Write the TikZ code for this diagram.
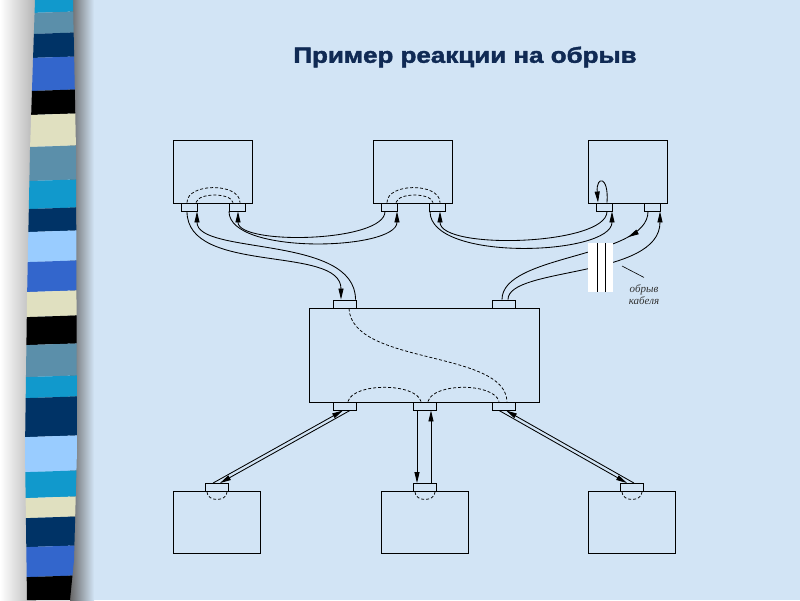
\documentclass[tikz,border=0pt]{standalone}
\usepackage{fontspec}
\setmainfont{Liberation Sans}
\newfontfamily\capfont{Liberation Serif}
\newfontfamily\titlefont[BoldFeatures={FakeBold=1.6}]{Liberation Sans}
\usetikzlibrary{arrows,arrows.meta}
\usetikzlibrary{calc}
\usetikzlibrary{decorations.markings}
\definecolor{bg}{RGB}{210,228,245}
\definecolor{stcyan}{RGB}{17,153,204}
\definecolor{ststeel}{RGB}{91,143,170}
\definecolor{stnavy}{RGB}{0,51,102}
\definecolor{stroyal}{RGB}{51,102,204}
\definecolor{stbeige}{RGB}{224,224,192}
\definecolor{stsky}{RGB}{153,204,255}
\definecolor{titleblue}{RGB}{16,42,84}
\tikzset{>={Triangle[length=11pt,width=5pt]}}
\tikzstyle{station} = [draw, line width = 0.9, inner sep = 0pt,
					minimum width = 79pt, minimum height = 63pt]
\tikzstyle{term} = [draw, line width = 0.9, inner sep = 0pt,
					minimum width = 87pt, minimum height = 62pt]
\tikzstyle{hub} = [draw, line width = 0.9, inner sep = 0pt,
					minimum width = 230pt, minimum height = 94pt]
\tikzstyle{port} = [draw, fill = bg, line width = 0.9, inner sep = 0pt,
					minimum width = 16pt, minimum height = 8pt]
\tikzstyle{bigport} = [port, minimum width = 23pt]
\tikzstyle{fibre} = [line width = 0.85, ->]
\tikzstyle{fibre1} = [line width = 0.85]
\tikzstyle{inner} = [line width = 0.75, dash pattern = on 3pt off 2pt]
\tikzstyle{fibremid} = [%
					line width = 0.85,
					postaction = decorate, decoration={markings, mark=at position .19 with \arrow{>}}
					]

\begin{document}
\begin{tikzpicture}[x=1pt,y=-1pt]

	% Background
	\useasboundingbox (0,0) rectangle (800,600);
	\fill[bg] (0,0) rectangle (800,600);
	\shade[left color=white, right color=black!30] (0,0) rectangle (36,600);
	\shade[left color=black!60, right color=bg] (70,0) rectangle (94,600);

	% Strip
	\begin{scope}
		\clip (35,0) -- (73,0) -- (76,150) -- (77,450) -- (74,560) -- (70,600) -- (27,600) -- (25,450) -- (27,300) -- (30,150) -- cycle;
		\foreach \ya/\yb/\c in {0/13/stcyan, 13/34/ststeel, 34/58/stnavy, 58/91/stroyal, 91/115/black,
			115/147/stbeige, 147/181/ststeel, 181/209/stcyan, 209/232/stnavy, 232/262/stsky,
			262/292/stroyal, 292/317/stbeige, 317/345/black, 345/377/ststeel, 377/398/stcyan,
			398/437/stnavy, 437/472/stsky, 472/498/stcyan, 498/518/stbeige, 518/547/stnavy,
			547/577/stroyal, 577/603/black}
		{
			\fill[\c] (0,\ya+1) -- (90,\ya-2) -- (90,\yb-2) -- (0,\yb+1) -- cycle;
		}
	\end{scope}

	% Title
	\node[text=titleblue, font=\titlefont\fontsize{22}{26}\selectfont\bfseries] (title) at (465,57)
		{\scalebox{1.18}[1]{Пример реакции на обрыв}};

	% Nodes
	%% Stations
	\node[station] (s1) at (212.5,171.5) {};
	\node[station] (s2) at (412.5,171.5) {};
	\node[station] (s3) at (627.5,171.5) {};
	\node[port] (p11) at (189,207) {};
	\node[port] (p12) at (237,207) {};
	\node[port] (p21) at (389,207) {};
	\node[port] (p22) at (437,207) {};
	\node[port] (p31) at (604,207) {};
	\node[port] (p32) at (652,207) {};
	%% Hub
	\node[hub] (h) at (424,355) {};
	\node[bigport] (h1) at (344.5,304) {};
	\node[bigport] (h2) at (504,304) {};
	\node[bigport] (hb1) at (344.5,406) {};
	\node[bigport] (hb2) at (425,406) {};
	\node[bigport] (hb3) at (504,406) {};
	%% Terminals
	\node[term] (t1) at (216.5,522) {};
	\node[term] (t2) at (424.5,522) {};
	\node[term] (t3) at (631.5,522) {};
	\node[bigport] (q1) at (217,487.5) {};
	\node[bigport] (q2) at (425,487.5) {};
	\node[bigport] (q3) at (632,487.5) {};

	% Inner paths
	\draw[inner] ([xshift=-2pt]p11.north) .. controls +(0,-20) and +(0,-20) .. ([xshift=3pt]p12.north);
	\draw[inner] ([xshift=7pt]p11.north) .. controls +(2,-10) and +(-2,-10) .. ([xshift=-4pt]p12.north);
	\draw[inner] ([xshift=-2pt]p21.north) .. controls +(0,-20) and +(0,-20) .. ([xshift=3pt]p22.north);
	\draw[inner] ([xshift=7pt]p21.north) .. controls +(2,-10) and +(-2,-10) .. ([xshift=-4pt]p22.north);
	\draw[fibre] ([xshift=3pt]p31.north) .. controls +(2,-27) and +(-2,-27) .. ([xshift=-6pt]p31.north);
	\draw[inner] ([xshift=4.5pt]h1.south) .. controls +(3,57) and +(-2,-52) .. ([xshift=3pt]hb3.north);
	\draw[inner] ([xshift=3.5pt]hb1.north) .. controls +(5,-19) and +(-5,-19) .. ([xshift=-4pt]hb2.north);
	\draw[inner] ([xshift=3pt]hb2.north) .. controls +(5,-19) and +(-5,-19) .. ([xshift=-5pt]hb3.north);
	\draw[inner] ([xshift=-10pt]q1.south) .. controls +(0,10) and +(0,10) .. ([xshift=10pt]q1.south);
	\draw[inner] ([xshift=-10pt]q2.south) .. controls +(0,10) and +(0,10) .. ([xshift=10pt]q2.south);
	\draw[inner] ([xshift=-10pt]q3.south) .. controls +(0,10) and +(0,10) .. ([xshift=10pt]q3.south);

	% Cables
	\draw[fibre] ([xshift=-2pt]p11.south) .. controls +(0,64) and +(0,-55) .. ([xshift=-3.5pt]h1.north);
	\draw[fibre] ([xshift=11pt]h1.north) .. controls +(0,-65) and +(0,44) .. ([xshift=8pt]p11.south);
	\draw[fibre] ([xshift=-8pt]p12.south) .. controls +(0,44) and +(0,39) .. ([xshift=8pt]p21.south);
	\draw[fibre] ([xshift=-4pt]p21.south) .. controls +(0,31) and +(0,34) .. ([xshift=1pt]p12.south);
	\draw[fibre] ([xshift=-7pt]p22.south) .. controls +(0,51) and +(0,44) .. ([xshift=8pt]p31.south);
	\draw[fibre] ([xshift=3pt]p31.south) .. controls +(0,34) and +(0,39) .. ([xshift=3pt]p22.south);
	\draw[fibremid] ([xshift=-4pt]p32.south) .. controls +(0,47) and +(0,-46) .. ([xshift=-2pt]h2.north);
	\draw[fibre] ([xshift=4pt]h2.north) .. controls +(0,-33) and +(0,67) .. ([xshift=8pt]p32.south);
	\draw[fibre] ([xshift=-4pt]q1.north) -- ([xshift=-1.5pt]hb1.south);
	\draw[fibre] ([xshift=5.5pt]hb1.south) -- ([xshift=3pt]q1.north);
	\draw[fibre] ([xshift=-8pt]hb2.south) -- ([xshift=-8pt]q2.north);
	\draw[fibre] ([xshift=6pt]q2.north) -- ([xshift=6pt]hb2.south);
	\draw[fibre] ([xshift=2pt]q3.north) -- ([xshift=2pt]hb3.south);
	\draw[fibre] ([xshift=-5pt]hb3.south) -- ([xshift=-5pt]q3.north);

	% Break
	\node[fill=white, inner sep=0pt, minimum width=25pt, minimum height=49pt] (gap) at (600.5,267.5) {};
	\draw[fibre1] ([xshift=-3.5pt]gap.north) -- ([xshift=-3.5pt]gap.south);
	\draw[fibre1] ([xshift=4.5pt]gap.north) -- ([xshift=4.5pt]gap.south);
	\node[font=\capfont\itshape\fontsize{11}{12}\selectfont, align=center, text=black!80] (lbl) at (644,295) {обрыв\\кабеля};
	\coordinate (cut) at (622,266);
	\draw[line width = 0.6] (cut) -- ([yshift=4pt]lbl.north);
\end{tikzpicture}
\end{document}
